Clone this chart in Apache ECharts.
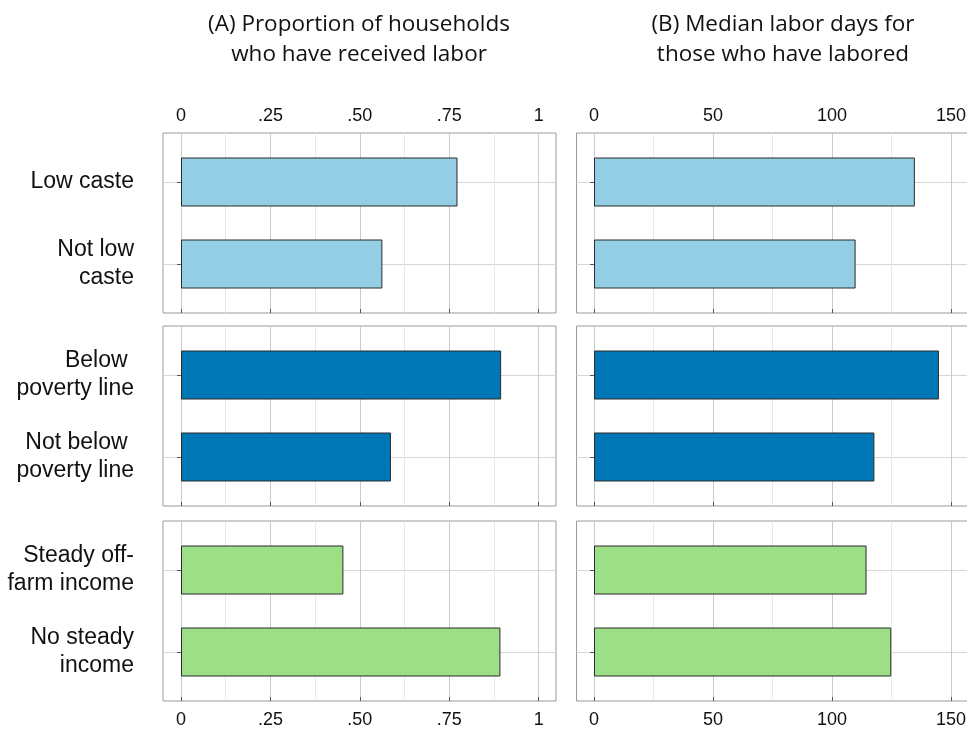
<!DOCTYPE html>
<html>
<head>
<meta charset="utf-8">
<script src="https://cdn.jsdelivr.net/npm/echarts@6/dist/echarts.min.js"></script>
<style>
  html, body { margin: 0; padding: 0; background: #fff; }
  #chart { width: 967px; height: 733px; }
</style>
</head>
<body>
<div id="chart"></div>
<script>
// groups (one panel row each), two bars per group
const groupLabels = [
  ['Low caste', 'Not low\ncaste'],
  ['Below \npoverty line', 'Not below \npoverty line'],
  ['Steady off-\nfarm income', 'No steady\nincome']
];
// (A) proportion of households who have received labor
const proportionReceived = [[0.773, 0.563], [0.895, 0.587], [0.454, 0.893]];
// (B) median labor days for those who have labored
const medianDays = [[134.8, 109.9], [144.9, 117.8], [114.5, 124.9]];

const ticksA = [0, 0.25, 0.5, 0.75, 1];
const ticksB = [0, 50, 100, 150];
const panelTitles = ['(A) Proportion of households\nwho have received labor', '(B) Median labor days for\nthose who have labored'];
const groupColors = ['#93cee4', '#0077b7', '#9ddf87'];

const chart = echarts.init(document.getElementById('chart'));

// panel layout
const cols = [
  {left: 163, right: 556, min: -0.0503, max: 1.0484, ticks: ticksA, values: proportionReceived,
    fmt: v => v === 0 ? '0' : v === 1 ? '1' : v.toFixed(2).replace(/^0/, '')},
  {left: 576.5, right: 972, min: -7.35, max: 158.8, ticks: ticksB, values: medianDays,
    fmt: v => String(v)}
];
const rowTops = [133, 326, 521];
const panelH = 180;

const grid = [], xAxis = [], yAxis = [], series = [];
const labelFont = 'Liberation Sans, Arial, sans-serif';

cols.forEach((c, ci) => {
  const W = c.right - c.left;
  const tickMax = c.ticks[c.ticks.length - 1];
  const step = c.ticks[1] - c.ticks[0];
  const lineLeft = c.left + (0 - c.min) / (c.max - c.min) * W;
  const lineW = (tickMax - 0) / (c.max - c.min) * W;

  rowTops.forEach((top, ri) => {
    // frame
    let g = grid.length;
    grid.push({left: c.left, top: top, width: W, height: panelH, show: true, outerBoundsMode: 'none',
      borderColor: '#9a9a9a', borderWidth: 1, backgroundColor: 'transparent'});
    xAxis.push({gridIndex: g, type: 'value', min: 0, max: 1, show: false});
    yAxis.push({gridIndex: g, type: 'value', min: 0, max: 1, show: false});

    // vertical gridlines + x ticks
    g = grid.length;
    grid.push({left: lineLeft, top: top, width: lineW, height: panelH, outerBoundsMode: 'none'});
    xAxis.push({
      gridIndex: g, type: 'value', position: 'top', min: 0, max: tickMax, interval: step,
      axisLine: {show: false},
      axisTick: {show: true, inside: false, length: 4, lineStyle: {color: '#555'}},
      axisLabel: {show: ri === 0, margin: 8, fontSize: 18, color: '#111', fontFamily: labelFont, formatter: c.fmt},
      splitLine: {show: true, lineStyle: {color: '#cacaca', width: 1}},
      minorTick: {show: false, splitNumber: 2},
      minorSplitLine: {show: true, lineStyle: {color: '#e8e8e8', width: 1}}
    });
    yAxis.push({gridIndex: g, type: 'value', min: 0, max: 1, show: false});
    if (ri === rowTops.length - 1) {
      xAxis.push({
        gridIndex: g, type: 'value', position: 'bottom', min: 0, max: tickMax, interval: step,
        axisLine: {show: false}, axisTick: {show: false}, splitLine: {show: false},
        axisLabel: {show: true, margin: 10, fontSize: 18, color: '#111', fontFamily: labelFont, formatter: c.fmt}
      });
    }

    // bars
    g = grid.length;
    grid.push({left: c.left, top: top + 49, width: W, height: 82, outerBoundsMode: 'none'});
    const xi = xAxis.length, yi = yAxis.length;
    xAxis.push({gridIndex: g, type: 'value', min: c.min, max: c.max, show: false});
    yAxis.push({
      gridIndex: g, type: 'category', data: groupLabels[ri], boundaryGap: false, inverse: true,
      axisLine: {show: false},
      axisTick: {show: true, length: 4, lineStyle: {color: '#555'}},
      axisLabel: {show: ci === 0, margin: 29, fontSize: 23, lineHeight: 28, color: '#111',
        fontFamily: labelFont, align: 'right'},
      splitLine: {show: true, lineStyle: {color: '#d6d6d6', width: 1}}
    });
    series.push({
      type: 'bar', xAxisIndex: xi, yAxisIndex: yi, data: c.values[ri], barWidth: 49,
      clip: false, silent: true,
      itemStyle: {color: groupColors[ri], borderColor: '#2b2b2b', borderWidth: 1}
    });
  });
});

const titleStyle = {fontFamily: 'Open Sans', fontWeight: 'normal', fontSize: 22.5, lineHeight: 30, color: '#111'};
const option = {
  backgroundColor: '#fff',
  animation: false,
  title: [
    {text: panelTitles[0], left: 354, top: 5, textAlign: 'center', textStyle: titleStyle},
    {text: panelTitles[1], left: 778, top: 5, textAlign: 'center', textStyle: titleStyle}
  ],
  grid: grid,
  xAxis: xAxis,
  yAxis: yAxis,
  series: series
};
chart.setOption(option);
</script>
</body>
</html>
